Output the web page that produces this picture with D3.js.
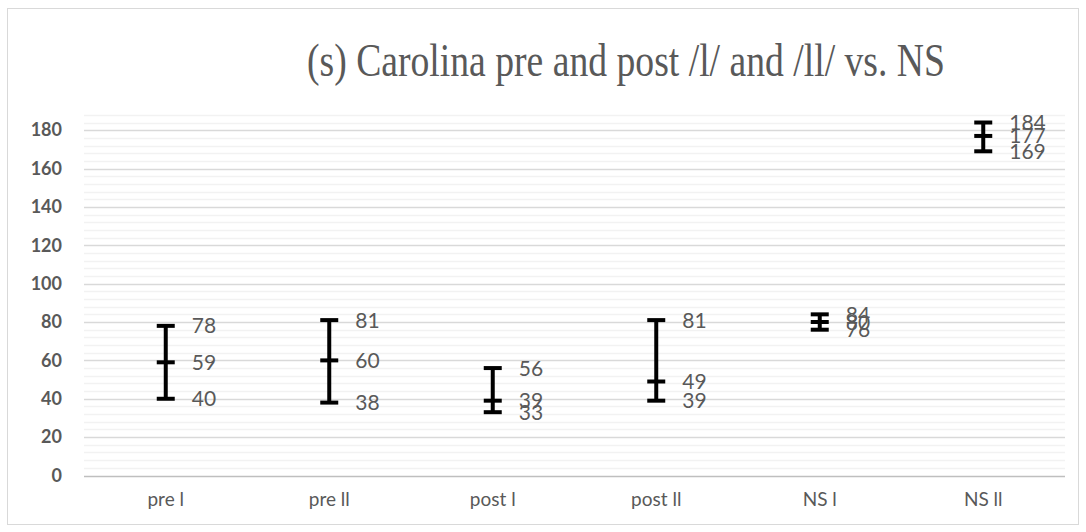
<!DOCTYPE html>
<html>
<head>
<meta charset="utf-8">
<script src="https://cdn.jsdelivr.net/npm/d3@7"></script>
<style>
  html, body { margin: 0; padding: 0; background: #fff; }
  svg { display: block; }
</style>
</head>
<body>
<svg id="chart" width="1086" height="532"></svg>
<script>
// Categories and high / mid / low values per group
const categories = ["pre l", "pre ll", "post l", "post ll", "NS l", "NS ll"];
const highValues = [78, 81, 56, 81, 84, 184];
const midValues  = [59, 60, 39, 49, 80, 177];
const lowValues  = [40, 38, 33, 39, 76, 169];
const yTicks = [0, 20, 40, 60, 80, 100, 120, 140, 160, 180];
const titleText = "(s) Carolina pre and post /l/ and /ll/ vs. NS";

const svg = d3.select("#chart");
const W = 1086, H = 532;
const margin = { left: 84, right: 21, top: 111, bottom: 56.5 };

// chart frame
svg.append("rect")
  .attr("x", 7.5).attr("y", 8.5)
  .attr("width", 1071).attr("height", 516)
  .attr("fill", "#fff").attr("stroke", "#d9d9d9").attr("stroke-width", 1);

const x = d3.scaleBand()
  .domain(categories)
  .range([margin.left, W - margin.right])
  .paddingInner(0).paddingOuter(0);

const y = d3.scaleLinear()
  .domain([0, 190])
  .range([H - margin.bottom, margin.top]);

// minor gridlines every 4
const minor = d3.range(4, 190, 4).filter(v => v % 20 !== 0);
svg.append("g").selectAll("line").data(minor).join("line")
  .attr("x1", margin.left).attr("x2", W - margin.right)
  .attr("y1", d => Math.round(y(d)) + 0.5).attr("y2", d => Math.round(y(d)) + 0.5)
  .attr("stroke", "#f2f2f2").attr("stroke-width", 1.5);

// major gridlines
svg.append("g").selectAll("line").data(yTicks.filter(v => v > 0)).join("line")
  .attr("x1", margin.left).attr("x2", W - margin.right)
  .attr("y1", d => Math.round(y(d)) + 0.5).attr("y2", d => Math.round(y(d)) + 0.5)
  .attr("stroke", "#d9d9d9").attr("stroke-width", 1.5);

// baseline
svg.append("line")
  .attr("x1", margin.left).attr("x2", W - margin.right)
  .attr("y1", Math.round(y(0)) + 0.5).attr("y2", Math.round(y(0)) + 0.5)
  .attr("stroke", "#bfbfbf").attr("stroke-width", 1.5);

// y axis labels
const yAxis = d3.axisLeft(y).tickValues(yTicks).tickSize(0).tickPadding(22);
const gy = svg.append("g")
  .attr("transform", `translate(${margin.left},0)`)
  .call(yAxis);
gy.select(".domain").remove();
gy.selectAll("text")
  .attr("font-family", "Lato, 'Open Sans', sans-serif")
  .attr("font-weight", "bold")
  .attr("font-size", 18)
  .attr("fill", "#595959");

// x axis labels
const xAxis = d3.axisBottom(x).tickSize(0).tickPadding(17);
const gx = svg.append("g")
  .attr("transform", `translate(0,${y(0)})`)
  .call(xAxis);
gx.select(".domain").remove();
gx.selectAll("text")
  .attr("font-family", "Lato, 'Open Sans', sans-serif")
  .attr("font-size", 19)
  .attr("fill", "#595959");

// high-low-mid marks
const rows = categories.map((c, i) => ({ c, hi: highValues[i], mid: midValues[i], lo: lowValues[i] }));
const cx = d => x(d.c) + x.bandwidth() / 2;
const capW = 9;

const marks = svg.append("g");
marks.selectAll("line.stem").data(rows).join("line")
  .attr("class", "stem")
  .attr("x1", cx).attr("x2", cx)
  .attr("y1", d => y(d.hi)).attr("y2", d => y(d.lo))
  .attr("stroke", "#000").attr("stroke-width", 4);

["hi", "mid", "lo"].forEach(k => {
  marks.selectAll("line.cap-" + k).data(rows).join("line")
    .attr("class", "cap-" + k)
    .attr("x1", d => cx(d) - capW).attr("x2", d => cx(d) + capW)
    .attr("y1", d => y(d[k])).attr("y2", d => y(d[k]))
    .attr("stroke", "#000").attr("stroke-width", 4);
});

// value labels
const labels = svg.append("g")
  .attr("font-family", "Lato, 'Open Sans', sans-serif")
  .attr("font-size", 21)
  .attr("fill", "#595959");
["hi", "mid", "lo"].forEach(k => {
  labels.selectAll("text.lbl-" + k).data(rows).join("text")
    .attr("class", "lbl-" + k)
    .attr("x", d => cx(d) + 26)
    .attr("y", d => y(d[k]))
    .attr("dy", "0.36em")
    .text(d => d[k]);
});

// title
svg.append("text")
  .attr("x", 626).attr("y", 76)
  .attr("text-anchor", "middle")
  .attr("font-family", "'Liberation Serif', 'DejaVu Serif', serif")
  .attr("font-size", 46)
  .attr("fill", "#595959")
  .attr("textLength", 638)
  .attr("lengthAdjust", "spacingAndGlyphs")
  .text(titleText);
</script>
</body>
</html>
